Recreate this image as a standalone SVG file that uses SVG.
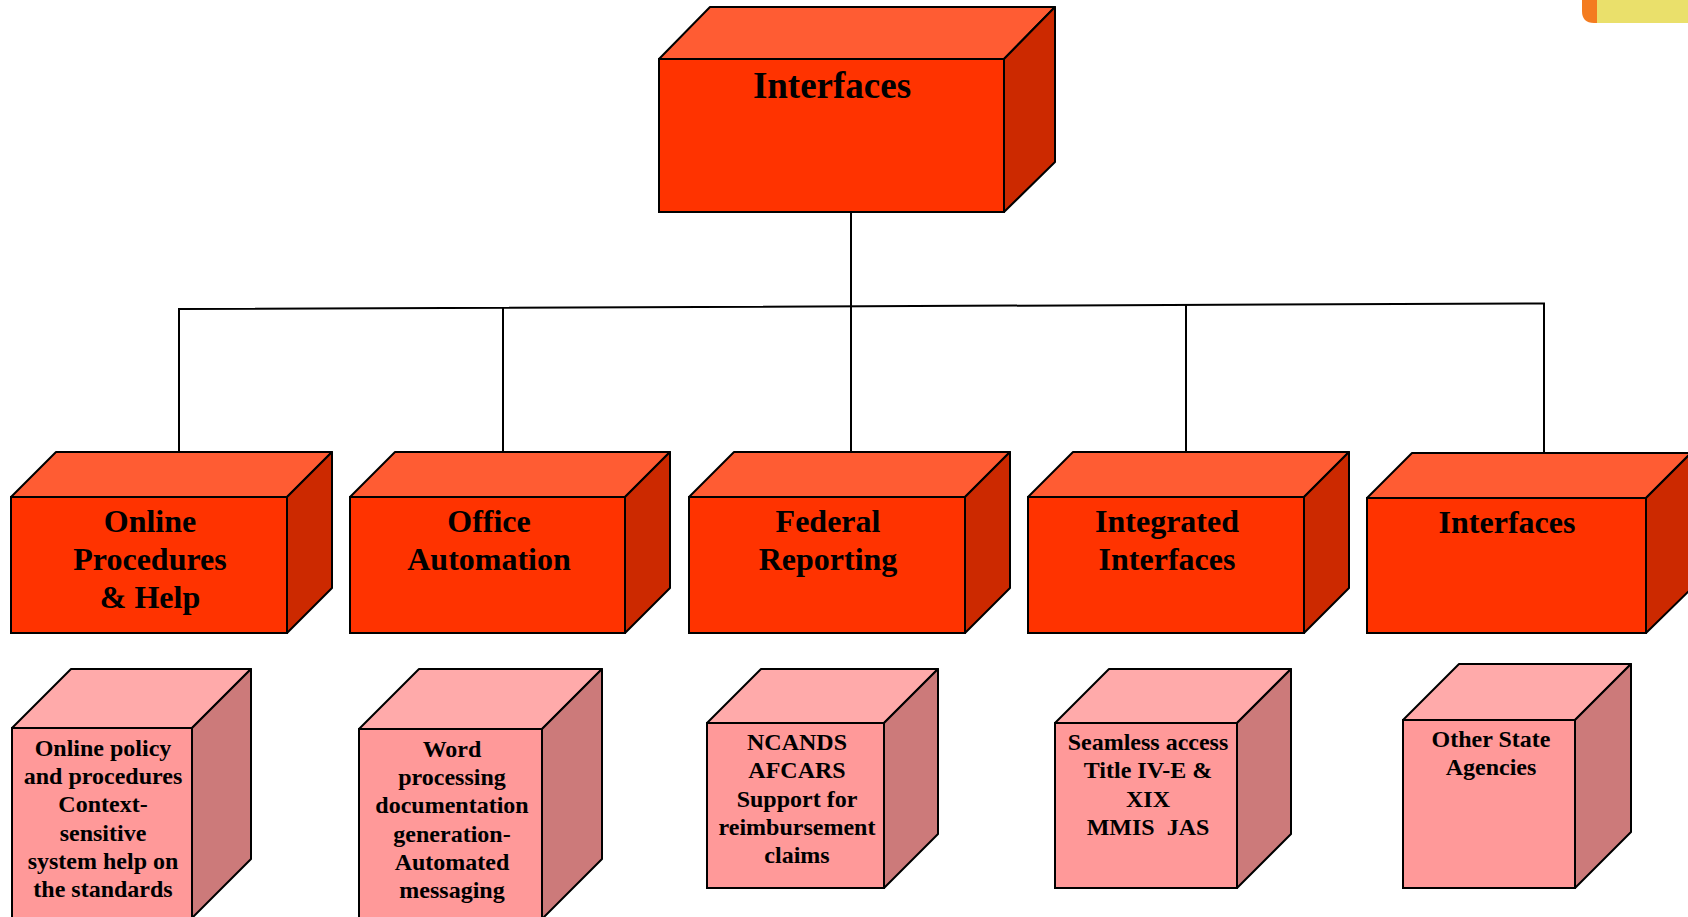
<svg xmlns="http://www.w3.org/2000/svg" width="1688" height="917" viewBox="0 0 1688 917">
<style>
.edge{stroke:#000;stroke-width:2;fill:none}
.rf{fill:#FF3300;stroke:#000;stroke-width:2}
.rt{fill:#FF5C33;stroke:#000;stroke-width:2;stroke-linejoin:round}
.rs{fill:#CC2900;stroke:#000;stroke-width:2;stroke-linejoin:round}
.pf{fill:#FF9999;stroke:#000;stroke-width:2}
.pt{fill:#FFAAAA;stroke:#000;stroke-width:2;stroke-linejoin:round}
.ps{fill:#CC7A7A;stroke:#000;stroke-width:2;stroke-linejoin:round}
text{font-family:"Liberation Serif","Times New Roman",serif;font-weight:bold;fill:#000;text-anchor:middle}
.t37{font-size:37px}
.t32{font-size:32px}
.t24{font-size:24px}
</style>
<rect width="1688" height="917" fill="#fff"/>
<g id="corner-decoration">
<path d="M1582,0 H1600 V23 H1594 Q1582,23 1582,11 Z" fill="#F47C20"/>
<rect x="1597" y="0" width="91" height="23" fill="#EAE06B"/>
</g>
<g id="connectors">
<line class="edge" x1="851" y1="212" x2="851" y2="306"/>
<polyline class="edge" points="179,452 179,309 1544,303.5 1544,453"/>
<line class="edge" x1="503" y1="307.5" x2="503" y2="452"/>
<line class="edge" x1="851" y1="306" x2="851" y2="452"/>
<line class="edge" x1="1186" y1="305" x2="1186" y2="452"/>
</g>
<g id="root">
<polygon class="rt" points="659,59 710,7 1055,7 1004,59"/>
<polygon class="rs" points="1004,59 1055,7 1055,162 1004,212"/>
<rect class="rf" x="659" y="59" width="345" height="153"/>
<text class="t37" x="832" y="98">Interfaces</text>
</g>
<g id="online-procedures">
<polygon class="rt" points="11,497 56,452 332,452 287,497"/>
<polygon class="rs" points="287,497 332,452 332,588 287,633"/>
<rect class="rf" x="11" y="497" width="276" height="136"/>
<text class="t32" x="150" y="532">Online</text>
<text class="t32" x="150" y="570">Procedures</text>
<text class="t32" x="150" y="608">&amp; Help</text>
</g>
<g id="office-automation">
<polygon class="rt" points="350,497 395,452 670,452 625,497"/>
<polygon class="rs" points="625,497 670,452 670,588 625,633"/>
<rect class="rf" x="350" y="497" width="275" height="136"/>
<text class="t32" x="489" y="532">Office</text>
<text class="t32" x="489" y="570">Automation</text>
</g>
<g id="federal-reporting">
<polygon class="rt" points="689,497 734,452 1010,452 965,497"/>
<polygon class="rs" points="965,497 1010,452 1010,588 965,633"/>
<rect class="rf" x="689" y="497" width="276" height="136"/>
<text class="t32" x="828" y="532">Federal</text>
<text class="t32" x="828" y="570">Reporting</text>
</g>
<g id="integrated-interfaces">
<polygon class="rt" points="1028,497 1073,452 1349,452 1304,497"/>
<polygon class="rs" points="1304,497 1349,452 1349,588 1304,633"/>
<rect class="rf" x="1028" y="497" width="276" height="136"/>
<text class="t32" x="1167" y="532">Integrated</text>
<text class="t32" x="1167" y="570">Interfaces</text>
</g>
<g id="interfaces-2">
<polygon class="rt" points="1367,498 1412,453 1691,453 1646,498"/>
<polygon class="rs" points="1646,498 1691,453 1691,589 1646,633"/>
<rect class="rf" x="1367" y="498" width="279" height="135"/>
<text class="t32" x="1507" y="533">Interfaces</text>
</g>
<g id="detail-online">
<polygon class="pt" points="12,728 71,669 251,669 192,728"/>
<polygon class="ps" points="192,728 251,669 251,859 192,918"/>
<rect class="pf" x="12" y="728" width="180" height="192"/>
<text class="t24" x="103" y="756">Online policy</text>
<text class="t24" x="103" y="784">and procedures</text>
<text class="t24" x="103" y="812">Context-</text>
<text class="t24" x="103" y="841">sensitive</text>
<text class="t24" x="103" y="869">system help on</text>
<text class="t24" x="103" y="897">the standards</text>
</g>
<g id="detail-office">
<polygon class="pt" points="359,729 419,669 602,669 542,729"/>
<polygon class="ps" points="542,729 602,669 602,859 542,919"/>
<rect class="pf" x="359" y="729" width="183" height="192"/>
<text class="t24" x="452" y="757">Word</text>
<text class="t24" x="452" y="785">processing</text>
<text class="t24" x="452" y="813">documentation</text>
<text class="t24" x="452" y="842">generation-</text>
<text class="t24" x="452" y="870">Automated</text>
<text class="t24" x="452" y="898">messaging</text>
</g>
<g id="detail-federal">
<polygon class="pt" points="707,723 761,669 938,669 884,723"/>
<polygon class="ps" points="884,723 938,669 938,834 884,888"/>
<rect class="pf" x="707" y="723" width="177" height="165"/>
<text class="t24" x="797" y="750">NCANDS</text>
<text class="t24" x="797" y="778">AFCARS</text>
<text class="t24" x="797" y="807">Support for</text>
<text class="t24" x="797" y="835">reimbursement</text>
<text class="t24" x="797" y="863">claims</text>
</g>
<g id="detail-integrated">
<polygon class="pt" points="1055,723 1109,669 1291,669 1237,723"/>
<polygon class="ps" points="1237,723 1291,669 1291,834 1237,888"/>
<rect class="pf" x="1055" y="723" width="182" height="165"/>
<text class="t24" x="1148" y="750">Seamless access</text>
<text class="t24" x="1148" y="778">Title IV-E &amp;</text>
<text class="t24" x="1148" y="807">XIX</text>
<text class="t24" x="1148" y="835" xml:space="preserve">MMIS  JAS</text>
</g>
<g id="detail-other">
<polygon class="pt" points="1403,720 1459,664 1631,664 1575,720"/>
<polygon class="ps" points="1575,720 1631,664 1631,832 1575,888"/>
<rect class="pf" x="1403" y="720" width="172" height="168"/>
<text class="t24" x="1491" y="747">Other State</text>
<text class="t24" x="1491" y="775">Agencies</text>
</g>
</svg>
